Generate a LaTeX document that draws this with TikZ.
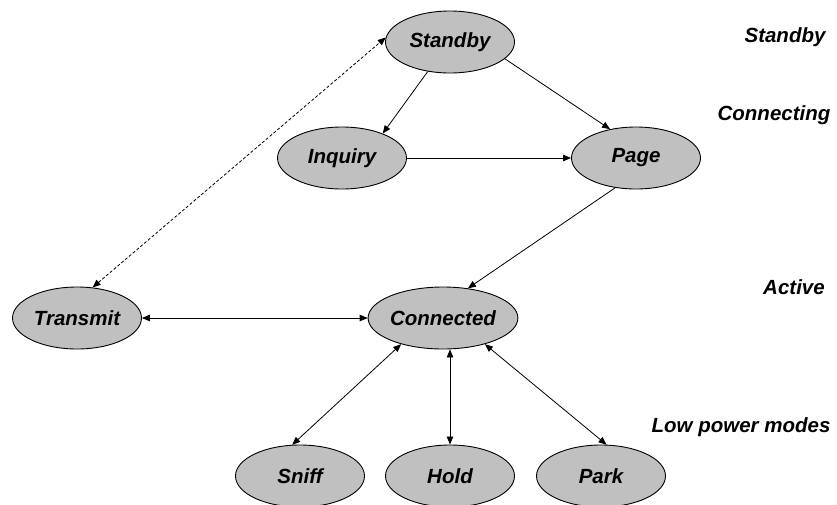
\documentclass[tikz,border=0pt]{standalone}
\usepackage{fontspec}
\setmainfont{Liberation Sans}
\usetikzlibrary{shapes.geometric,arrows.meta}
\definecolor{statefill}{HTML}{C0C0C0}
\begin{document}
\begin{tikzpicture}[x=1pt,y=-1pt,
  state/.style={ellipse,draw=black,line width=0.9pt,fill=statefill,
    minimum width=129pt,minimum height=62pt,inner sep=0pt,
    font=\fontsize{20.5}{24}\selectfont\bfseries\itshape},
  level/.style={inner sep=0pt,font=\fontsize{20.5}{24}\selectfont\bfseries\itshape},
  tip/.style={-{Triangle[length=8pt,width=6.5pt]}},
  link/.style={line width=0.8pt,tip},
  dlink/.style={line width=0.8pt,{Triangle[length=8pt,width=6.5pt]}-{Triangle[length=8pt,width=6.5pt]}}]
\useasboundingbox (0,0) rectangle (837,504);

% states
\node[state] (standby)   at (450,42)  {Standby};
\node[state] (inquiry)   at (342,158) {Inquiry};
\node[state] (page)      at (636,158) {Page};
\node[state] (transmit)  at (77,318)  {Transmit};
\node[state] (connected) at (443,318) {Connected};
\node[state] (sniff)     at (300,476) {Sniff};
\node[state] (hold)      at (450,476) {Hold};
\node[state] (park)      at (601,476) {Park};

% level labels on the right
\node[level] (lstandby) at (785,37)  {Standby};
\node[level] (lconn)    at (774,115) {Connecting};
\node[level] (lactive)  at (794,287) {Active};
\node[level] (llow)     at (741,427) {Low power modes};

% transitions
\draw[link] (standby.-127) -- (inquiry.31);
\draw[link] (standby.-17) -- (page.132);
\draw[link] (inquiry.east) -- (page.west);
\draw[link] (page.-125) -- (connected.50);
\draw[dlink,dash pattern=on 3pt off 2pt] (transmit.63) -- (standby.176);
\draw[dlink] (transmit.east) -- (connected.west);
\draw[dlink] (connected.212) -- (sniff.104);
\draw[dlink] (connected.south -| hold.north) -- (hold.north);
\draw[dlink] (connected.-32) -- (park.80);
\end{tikzpicture}
\end{document}
